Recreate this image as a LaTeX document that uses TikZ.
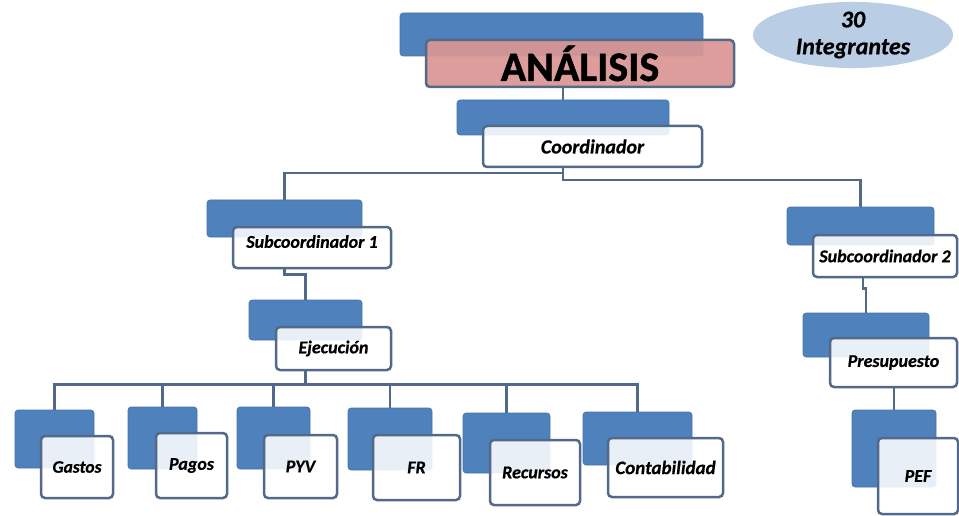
\documentclass[tikz,border=0pt]{standalone}
\usepackage{fontspec}
\setmainfont{Carlito}
\newfontface\labelface{Carlito Bold Italic}[FakeBold=0.6]
\newfontface\titleface{Carlito Bold}[FakeBold=1.2]
\usetikzlibrary{shapes.geometric,backgrounds}
\definecolor{boxblue}{HTML}{4F81BD}
\definecolor{edge}{HTML}{52698A}
\definecolor{pinkfill}{HTML}{D99694}
\definecolor{ovalfill}{HTML}{B9CDE5}
\begin{document}
\begin{tikzpicture}[x=1pt,y=-1pt,
  wh/.style 2 args={minimum width=#1, minimum height=#2},
  fs/.style={font=\labelface\fontsize{#1}{#1}\selectfont},
  backbox/.style={draw=boxblue!90!black, line width=0.6pt, fill=boxblue,
    rounded corners=3pt, inner sep=0pt},
  frontbox/.style={draw=edge, line width=2.5pt, fill=white, fill opacity=0.88,
    text opacity=1, rounded corners=4pt, inner sep=0pt, fs=18},
  titlebox/.style={frontbox, fill=pinkfill, fill opacity=0.93,
    font=\titleface\fontsize{42}{46}\selectfont},
  link/.style={draw=edge, line width=2.5pt}]
\useasboundingbox (0,0) rectangle (959,516);

% members badge
\node[ellipse, fill=ovalfill, draw=none, wh={200}{58}, inner sep=0pt,
  align=center, font=\labelface\fontsize{24}{27}\selectfont]
  (members) at (853,35) {30\\Integrantes};

% top of the hierarchy
\node[backbox, wh={303}{43}] (analisisB) at (551.5,34.5) {};
\node[titlebox, wh={308}{47}] (analisis) at (580,63.5) {ANÁLISIS};

\node[backbox, wh={212}{35}] (coordB) at (563,117.5) {};
\node[frontbox, wh={219}{41}, fs=20] (coord) at (592.5,146.5) {Coordinador};

% first branch
\node[backbox, wh={155}{37}] (subaB) at (284.5,218.5) {};
\node[frontbox, wh={158}{41}, text depth=12pt] (suba) at (312,247.5) {Subcoordinador 1};

\node[backbox, wh={113}{40}] (ejecB) at (305.5,320) {};
\node[frontbox, wh={115}{43}] (ejec) at (333.5,348.5) {Ejecución};

\node[backbox, wh={79}{58}] (gastosB) at (54.5,439) {};
\node[frontbox, wh={72}{62}, fs=17.5] (gastos) at (77,467) {Gastos};

\node[backbox, wh={69}{62}] (pagosB) at (162.5,438) {};
\node[frontbox, wh={71}{65}] (pagos) at (191.5,465.5) {Pagos};

\node[backbox, wh={73}{62}] (pyvB) at (273.5,438) {};
\node[frontbox, wh={73}{63}] (pyv) at (300.5,466.5) {PYV};

\node[backbox, wh={84}{62}] (frB) at (390,439) {};
\node[frontbox, wh={87}{65}] (fr) at (416.5,467.5) {FR};

\node[backbox, wh={87}{60}] (recB) at (506.5,443) {};
\node[frontbox, wh={90}{65}] (rec) at (535,472.5) {Recursos};

\node[backbox, wh={109}{53}] (contB) at (637.5,438.5) {};
\node[frontbox, wh={115}{59}, fs=19] (cont) at (665.5,467.5) {Contabilidad};

% second branch
\node[backbox, wh={147}{38}] (subbB) at (860.5,226) {};
\node[frontbox, wh={144}{42}] (subb) at (885,256) {Subcoordinador 2};

\node[backbox, wh={126}{44}] (presB) at (866,335) {};
\node[frontbox, wh={127}{49}] (pres) at (893.5,362.5) {Presupuesto};

\node[backbox, wh={84}{77}] (pefB) at (894,448.5) {};
\node[frontbox, wh={80}{76}] (pef) at (918,476) {PEF};

% connectors
\begin{scope}[on background layer]
  \draw[link] (coordB.north |- analisis.south) -- (coordB.north);
  \draw[link] (coordB.north |- coord.south) -- ++(0,5) -| (subaB.north);
  \draw[link] (coordB.north |- coord.south) -- ++(0,12) -| (subbB.north);
  \draw[link] (subaB.north |- suba.south) -- ++(0,5) -| (ejecB.north);
  \foreach \c in {gastosB,pagosB,pyvB,frB,recB,contB}
    \draw[link] (ejecB.north |- ejec.south) -- ++(0,13) -| (\c.north);
  \draw[link] (subb.south -| 863,0) -- ++(0,10) -| (presB.north);
  \draw[link] (pefB.north |- pres.south) -- (pefB.north);
\end{scope}
\end{tikzpicture}
\end{document}
